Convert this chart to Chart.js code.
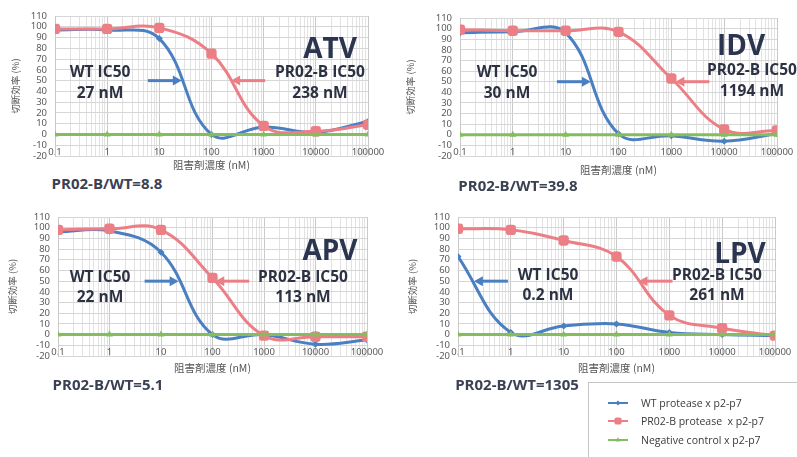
<!DOCTYPE html>
<html>
<head>
<meta charset="utf-8">
<script src="https://cdn.jsdelivr.net/npm/chart.js@4.4.0/dist/chart.umd.min.js"></script>
<style>
  html, body { margin: 0; padding: 0; background: #fff; }
  #wrap { position: relative; width: 797px; height: 457px; overflow: hidden; font-family: "Open Sans", "Noto Sans", sans-serif; }
  #wrap canvas { position: absolute; }
  .note { position: absolute; transform: translate(-50%, -50%); font-weight: 700; color: #2c3242; white-space: nowrap; line-height: 1; }
  .drug { font-size: 28px; color: #2b3550; }
  .ic { font-size: 15.5px; }
  .ratio { font-size: 15px; color: #3a4152; }
  #legend { position: absolute; left: 588px; top: 382px; width: 230px; height: 90px; border: 1px solid #c4c4c4; background: #fff; }
  #legend .row { position: absolute; left: 18px; height: 14px; display: flex; align-items: center; font-size: 10.5px; color: #3a3a3a; white-space: pre; }
  #legend canvas { position: static; margin-right: 12px; }
</style>
</head>
<body>
<div id="wrap"></div>
<script>
// concentrations tested (nM) and drug panels
const concentrations = [0.1, 1, 10, 100, 1000, 10000, 100000];
const drugs = ['ATV', 'IDV', 'APV', 'LPV'];
const wtIC50 = [27, 30, 22, 0.2];
const pr02IC50 = [238, 1194, 113, 261];
const foldChange = ['8.8', '39.8', '5.1', '1305'];
const seriesNames = ['WT protease x p2-p7', 'PR02-B protease  x p2-p7', 'Negative control x p2-p7'];
const xTickLabels = ['0.1', '1', '10', '100', '1000', '10000', '100000'];

// cleavage efficiency (%)
const atvWT  = [97, 97, 89, 0, 7, 2, 12];
const atvPR  = [98, 98, 99, 75, 8, 3, 9];
const atvNeg = [0, 0, 0, 0, 0, 0, 0];
const idvWT  = [96, 97, 96, 1, -1, -6, 1];
const idvPR  = [99, 98, 98, 97, 53, 5, 4];
const idvNeg = [0, 0, 0, 0, 0, 0, 0];
const apvWT  = [96, 97, 77, 0, 0, -9, -5];
const apvPR  = [98, 99, 98, 53, -1, -2, -2];
const apvNeg = [0, 0, 0, 0, 0, 0, 0];
const lpvWT  = [73, 2, 8, 10, 2, 0, -1];
const lpvPR  = [99, 98, 88, 73, 18, 6, -1];
const lpvNeg = [0, 0, 0, 0, 0, 0, 0];

const panelSeries = [
  [atvWT, atvPR, atvNeg],
  [idvWT, idvPR, idvNeg],
  [apvWT, apvPR, apvNeg],
  [lpvWT, lpvPR, lpvNeg]
];

const colors = ['#4a7fc1', '#ec7f86', '#85bd5e'];
const pointStyles = ['rectRot', 'rectRounded', 'triangle'];
const pointRadii = [3.5, 6, 4];

// canvas boxes and plot areas (page pixels)
const layout = [
  { left: 0,   top: 0,   width: 392, height: 172, area: [55, 16, 368, 156],   yTitleX: 15,
    title: [330, 47],  wt: [100, 72, 93],  pr: [320, 72, 93],  ratio: [107, 183], wtDir: 1 },
  { left: 395, top: 0,   width: 402, height: 177, area: [460, 18, 777, 156],  yTitleX: 410,
    title: [741, 44],  wt: [507, 72, 93],  pr: [752, 70, 91],  ratio: [518, 185], wtDir: 1 },
  { left: 0,   top: 200, width: 392, height: 175, area: [58, 217, 367, 356],  yTitleX: 12,
    title: [330, 249], wt: [100, 277, 297], pr: [303, 277, 297], ratio: [108, 384], wtDir: 1 },
  { left: 397, top: 200, width: 400, height: 175, area: [458, 217, 775, 356], yTitleX: 412,
    title: [740, 252], wt: [548, 275, 295], pr: [717, 275, 295], ratio: [517, 384], wtDir: -1 }
];

// log axis ticks: every 1..9 per decade, labels only on decades
const xTicks = [];
for (let d = -1; d <= 4; d++) {
  for (let m = 1; m <= 9; m++) xTicks.push({ value: m * Math.pow(10, d), major: m === 1 });
}
xTicks.push({ value: 100000, major: true });

const wrap = document.getElementById('wrap');

function addNote(cls, text, x, y) {
  const el = document.createElement('div');
  el.className = 'note ' + cls;
  el.textContent = text;
  el.style.left = x + 'px';
  el.style.top = y + 'px';
  wrap.appendChild(el);
}

// IC50 arrows drawn in data space: tip at (IC50, 50%)
function arrowPlugin(items) {
  return {
    id: 'icArrows',
    afterDatasetsDraw(chart) {
      const { ctx, scales: { x, y } } = chart;
      items.forEach(a => {
        const tx = x.getPixelForValue(a.x);
        const ty = y.getPixelForValue(a.y);
        const tail = tx - a.dir * a.len;
        ctx.save();
        ctx.strokeStyle = a.color;
        ctx.fillStyle = a.color;
        ctx.lineWidth = 3;
        ctx.beginPath();
        ctx.moveTo(tail, ty);
        ctx.lineTo(tx - a.dir * 6, ty);
        ctx.stroke();
        ctx.beginPath();
        ctx.moveTo(tx, ty);
        ctx.lineTo(tx - a.dir * 9, ty - 5);
        ctx.lineTo(tx - a.dir * 9, ty + 5);
        ctx.closePath();
        ctx.fill();
        ctx.restore();
      });
    }
  };
}

// pull the x tick labels up so they sit over the bottom row of the grid
const raiseTickLabels = {
  id: 'raiseTickLabels',
  afterLayout(chart) {
    chart.scales.x.top = chart.chartArea.bottom - 9;
  }
};

layout.forEach((p, i) => {
  const canvas = document.createElement('canvas');
  canvas.width = p.width;
  canvas.height = p.height;
  canvas.style.left = p.left + 'px';
  canvas.style.top = p.top + 'px';
  wrap.appendChild(canvas);

  const [aL, aT, aR, aB] = p.area;
  const yAxisWidth = aL - p.left;
  const xAxisHeight = p.top + p.height - aB;

  const datasets = panelSeries[i].map((vals, s) => ({
    label: seriesNames[s],
    data: vals.map((v, k) => ({ x: concentrations[k], y: v })),
    borderColor: colors[s],
    backgroundColor: colors[s],
    borderWidth: 3,
    tension: 0.4,
    pointStyle: pointStyles[s],
    pointRadius: pointRadii[s],
    pointBorderWidth: 0,
    order: 2 - s
  }));

  new Chart(canvas, {
    type: 'line',
    data: { datasets },
    options: {
      responsive: false,
      animation: false,
      layout: { padding: { top: aT - p.top, right: p.left + p.width - aR, left: 0, bottom: 0 } },
      plugins: { legend: { display: false }, tooltip: { enabled: false } },
      scales: {
        x: {
          type: 'logarithmic',
          min: 0.1,
          max: 100000,
          afterBuildTicks: scale => { scale.ticks = xTicks.map(t => ({ ...t })); },
          afterFit: scale => { scale.height = xAxisHeight; },
          ticks: {
            autoSkip: false,
            maxRotation: 0,
            padding: 0,
            color: '#5a5a5a',
            font: { family: 'Noto Sans', size: 9.5 },
            callback: v => {
              const k = concentrations.indexOf(v);
              return k >= 0 ? xTickLabels[k] : '';
            }
          },
          grid: {
            drawTicks: false,
            color: c => (c.tick && c.tick.major ? '#c9c9c9' : '#e2e2e2')
          },
          border: { display: false },
          title: {
            display: true,
            text: '阻害剤濃度 (nM)',
            color: '#555',
            padding: { top: 0, bottom: 1 },
            font: { family: 'Noto Sans CJK JP', size: 10.5 }
          }
        },
        y: {
          min: -20,
          max: 110,
          afterFit: scale => { scale.width = yAxisWidth; },
          ticks: {
            stepSize: 10,
            autoSkip: false,
            padding: 8,
            color: '#5a5a5a',
            font: { family: 'Noto Sans', size: 9.5 }
          },
          grid: { drawTicks: false, color: '#d6d6d6' },
          border: { color: '#c9c9c9' },
          title: {
            display: true,
            text: '切断効率 (%)',
            color: '#555',
            padding: { top: p.yTitleX - p.left - 5.7, bottom: 0 },
            font: { family: 'Noto Sans CJK JP', size: 9.5 }
          }
        }
      }
    },
    plugins: [raiseTickLabels, arrowPlugin([
      { x: wtIC50[i], y: 50, dir: p.wtDir, len: 34, color: colors[0] },
      { x: pr02IC50[i], y: 50, dir: -1, len: 34, color: colors[1] }
    ])]
  });

  addNote('drug', drugs[i], p.title[0], p.title[1]);
  addNote('ic', 'WT IC50', p.wt[0], p.wt[1]);
  addNote('ic', wtIC50[i] + ' nM', p.wt[0], p.wt[2]);
  addNote('ic', 'PR02-B IC50', p.pr[0], p.pr[1]);
  addNote('ic', pr02IC50[i] + ' nM', p.pr[0], p.pr[2]);
  addNote('ratio', 'PR02-B/WT=' + foldChange[i], p.ratio[0], p.ratio[1]);
});

// shared legend
const legend = document.createElement('div');
legend.id = 'legend';
wrap.appendChild(legend);
const rowTops = [13, 31, 50];
seriesNames.forEach((name, s) => {
  const row = document.createElement('div');
  row.className = 'row';
  row.style.top = rowTops[s] + 'px';
  const icon = document.createElement('canvas');
  icon.width = 22;
  icon.height = 12;
  const g = icon.getContext('2d');
  g.strokeStyle = colors[s];
  g.fillStyle = colors[s];
  g.lineWidth = 2;
  g.beginPath();
  g.moveTo(1, 6);
  g.lineTo(21, 6);
  g.stroke();
  Chart.helpers.drawPoint(g, { pointStyle: pointStyles[s], radius: pointRadii[s] * 0.7, rotation: 0, borderWidth: 0 }, 11, 6);
  row.appendChild(icon);
  row.appendChild(document.createTextNode(name));
  legend.appendChild(row);
});
</script>
</body>
</html>
